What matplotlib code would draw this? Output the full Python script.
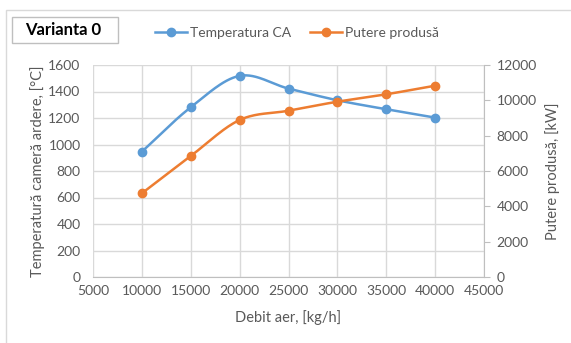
import numpy as np
import matplotlib
matplotlib.use("Agg")
import matplotlib.pyplot as plt
from matplotlib.lines import Line2D
from matplotlib.patches import Rectangle

plt.rcParams['font.family'] = ['Lato', 'DejaVu Sans']

debit = [10000, 15000, 20000, 25000, 30000, 35000, 40000]
temperatura = [946, 1281, 1518, 1422, 1334, 1266, 1203]
putere = [4737, 6849, 8887, 9413, 9922, 10342, 10828]

x_ticks = [5000, 10000, 15000, 20000, 25000, 30000, 35000, 40000, 45000]
left_ticks = [0, 200, 400, 600, 800, 1000, 1200, 1400, 1600]
right_ticks = [0, 2000, 4000, 6000, 8000, 10000, 12000]

BLUE = '#5B9BD5'
ORANGE = '#ED7D31'
TXT = '#595959'
GRID = '#D9D9D9'

W, H = 571, 343


def smooth(x, y, n=30):
    x = np.asarray(x, float)
    y = np.asarray(y, float)
    xs, ys = [], []
    N = len(x)
    for i in range(N - 1):
        p0 = y[i - 1] if i > 0 else 2 * y[i] - y[i + 1]
        p1, p2 = y[i], y[i + 1]
        p3 = y[i + 2] if i + 2 < N else 2 * y[i + 1] - y[i]
        t = np.linspace(0, 1, n, endpoint=(i == N - 2))
        yy = 0.5 * ((2 * p1) + (-p0 + p2) * t + (2 * p0 - 5 * p1 + 4 * p2 - p3) * t ** 2
                    + (-p0 + 3 * p1 - 3 * p2 + p3) * t ** 3)
        xx = x[i] + (x[i + 1] - x[i]) * t
        xs.append(xx)
        ys.append(yy)
    return np.concatenate(xs), np.concatenate(ys)


fig = plt.figure(figsize=(W / 100, H / 100), dpi=100)
fig.patch.set_facecolor('white')

# chart area border
fig.patches.append(Rectangle((6 / W, -0.05), 1.2, (H - 10) / H + 0.05, transform=fig.transFigure,
                             fill=False, edgecolor='#D9D9D9', lw=1))

left, right, top, bottom = 93, 484, 65, 277
ax = fig.add_axes([left / W, 1 - bottom / H, (right - left) / W, (bottom - top) / H])
ax2 = ax.twinx()

ax.set_xlim(5000, 45000)
ax.set_ylim(0, 1600)
ax2.set_ylim(0, 12000)
ax.set_xticks(x_ticks)
ax.set_yticks(left_ticks)
ax2.set_yticks(right_ticks)

ax.grid(True, color=GRID, lw=1)
ax.set_axisbelow(True)
for s in ['top', 'left', 'right']:
    ax.spines[s].set_visible(False)
ax.spines['bottom'].set_color('#BFBFBF')
for s in ['top', 'left', 'bottom']:
    ax2.spines[s].set_visible(False)
ax2.spines['right'].set_color('#BFBFBF')

ax.tick_params(axis='x', length=0, labelsize=10, labelcolor=TXT, pad=6)
ax.tick_params(axis='y', length=0, labelsize=10, labelcolor=TXT, pad=9)
ax2.tick_params(axis='y', length=4, color='#BFBFBF', labelsize=10, labelcolor=TXT, pad=5)

sx, sy = smooth(debit, temperatura)
ax.plot(sx, sy, color=BLUE, lw=1.8, zorder=3)
ax.plot(debit, temperatura, 'o', color=BLUE, ms=6, zorder=4)
sx2, sy2 = smooth(debit, putere)
ax2.plot(sx2, sy2, color=ORANGE, lw=1.8, zorder=3)
ax2.plot(debit, putere, 'o', color=ORANGE, ms=6, zorder=4)

ax.set_xlabel('Debit aer, [kg/h]', fontsize=10.5, color=TXT, labelpad=9)
ax.set_ylabel('Temperatură cameră ardere, [°C]', fontsize=10.5, color=TXT, labelpad=2)
ax2.set_ylabel('Putere produsă, [kW]', fontsize=10.5, color=TXT, labelpad=6)

# title box
fig.patches.append(Rectangle((12 / W, 1 - 43 / H), 106 / W, 26 / H, transform=fig.transFigure,
                             fill=False, edgecolor='#BFBFBF', lw=1))
fig.text(25 / W, 1 - 30 / H, 'Varianta 0', fontsize=12, fontweight='bold', color='black',
         va='center', ha='left')

# legend
handles = [Line2D([], [], color=BLUE, lw=1.8, marker='o', ms=6),
           Line2D([], [], color=ORANGE, lw=1.8, marker='o', ms=6)]
fig.legend(handles, ['Temperatura CA', 'Putere produsă'], loc='center',
           bbox_to_anchor=(297 / W, 1 - 33 / H), ncol=2, frameon=False,
           fontsize=10, labelcolor=TXT, handlelength=2.3, handletextpad=0.2,
           columnspacing=1.4)

fig.savefig('out.png', dpi=100)
